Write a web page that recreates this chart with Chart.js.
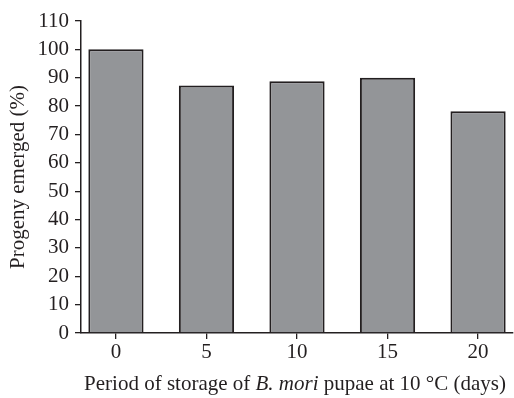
<!DOCTYPE html>
<html>
<head>
<meta charset="utf-8">
<script src="https://cdn.jsdelivr.net/npm/chart.js@4"></script>
<style>
  html, body { margin: 0; padding: 0; background: #fff; }
  #wrap { position: relative; width: 514px; height: 398px; }
</style>
</head>
<body>
<div id="wrap"><canvas id="chart" width="514" height="398"></canvas></div>
<script>
const storageDays = [0, 5, 10, 15, 20];
const progenyEmerged = [100, 87.3, 88.8, 90, 78.2];
const yTicks = [0, 10, 20, 30, 40, 50, 60, 70, 80, 90, 100, 110];

const serif = '"Liberation Serif", "Times New Roman", serif';
const ink = '#231f20';

// x title has an italic species name, so it is drawn in pieces
const xTitlePlugin = {
  id: 'xTitle',
  afterDraw(chart) {
    const ctx = chart.ctx;
    const parts = [
      { t: 'Period of storage of ', s: 'normal' },
      { t: 'B. mori', s: 'italic' },
      { t: ' pupae at 10 \u00b0C (days)', s: 'normal' }
    ];
    ctx.save();
    ctx.fillStyle = ink;
    ctx.textBaseline = 'middle';
    let total = 0;
    parts.forEach(p => {
      ctx.font = p.s + ' 21px ' + serif;
      p.w = ctx.measureText(p.t).width;
      total += p.w;
    });
    let x = 295 - total / 2;
    parts.forEach(p => {
      ctx.font = p.s + ' 21px ' + serif;
      ctx.fillText(p.t, x, 384);
      x += p.w;
    });
    ctx.restore();
  }
};

new Chart(document.getElementById('chart').getContext('2d'), {
  type: 'bar',
  data: {
    datasets: [{
      data: storageDays.map((d, i) => ({ x: d, y: progenyEmerged[i] })),
      backgroundColor: '#939598',
      borderColor: ink,
      borderWidth: 2,
      borderSkipped: 'bottom',
      barPercentage: 0.61,
      categoryPercentage: 1
    }]
  },
  options: {
    responsive: false,
    animation: false,
    layout: { padding: { top: 21, right: 1, left: 0, bottom: 0 } },
    plugins: { legend: { display: false }, tooltip: { enabled: false } },
    scales: {
      x: {
        type: 'linear',
        offset: false,
        min: -1.93,
        max: 21.93,
        afterBuildTicks: axis => { axis.ticks = storageDays.map(v => ({ value: v })); },
        afterFit: axis => { axis.height = 65; },
        ticks: { color: ink, font: { family: serif, size: 21 }, padding: 1, maxRotation: 0 },
        grid: { offset: false, drawOnChartArea: false, drawTicks: true, tickLength: 6, color: ink, lineWidth: 1.3 },
        border: { color: ink, width: 1.5 }
      },
      y: {
        min: 0,
        max: 110,
        afterBuildTicks: axis => { axis.ticks = yTicks.map(v => ({ value: v })); },
        afterFit: axis => { axis.width = 81; },
        ticks: { color: ink, font: { family: serif, size: 21 }, padding: 6 },
        grid: { drawOnChartArea: false, drawTicks: true, tickLength: 6, color: ink, lineWidth: 1.3 },
        border: { color: ink, width: 1.5 },
        title: { display: true, text: 'Progeny emerged (%)', color: ink, font: { family: serif, size: 21 }, padding: { top: 6, bottom: 0 } }
      }
    }
  },
  plugins: [xTitlePlugin]
});
</script>
</body>
</html>
